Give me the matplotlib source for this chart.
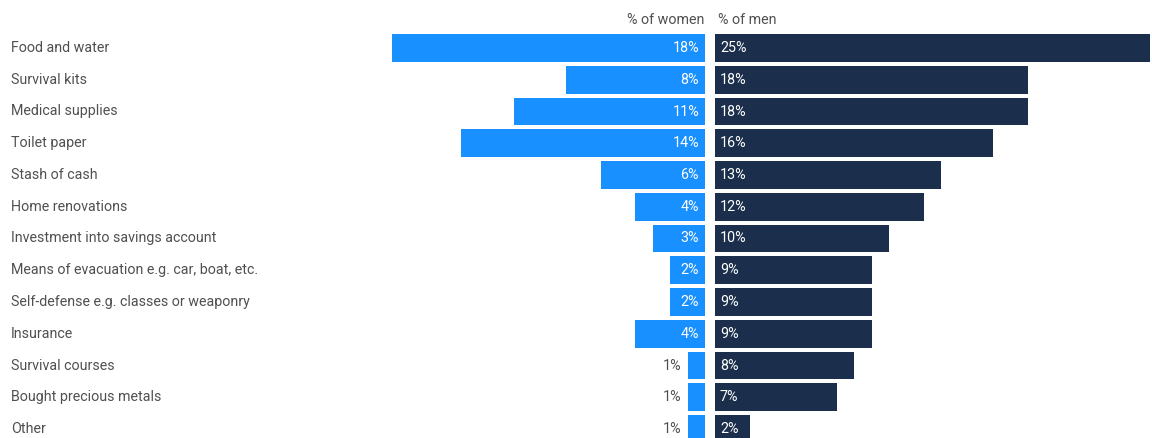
import matplotlib.pyplot as plt

categories = [
    "Food and water",
    "Survival kits",
    "Medical supplies",
    "Toilet paper",
    "Stash of cash",
    "Home renovations",
    "Investment into savings account",
    "Means of evacuation e.g. car, boat, etc.",
    "Self-defense e.g. classes or weaponry",
    "Insurance",
    "Survival courses",
    "Bought precious metals",
    "Other",
]
women = [18, 8, 11, 14, 6, 4, 3, 2, 2, 4, 1, 1, 1]
men = [25, 18, 18, 16, 13, 12, 10, 9, 9, 9, 8, 7, 2]

plt.rcParams['font.family'] = ['Roboto', 'DejaVu Sans']

W, H = 1152, 438
fig = plt.figure(figsize=(W / 100, H / 100), dpi=100)

px_per_pct = 17.4
row_h = 31.75
first_y = 48
y_top = -first_y / row_h
y_bot = (H - first_y) / row_h

women_color = "#1890FF"
men_color = "#1B2E4B"
text_color = "#505050"
fs = 10.3

# women axis: right edge at x=705
wl, wr = 300, 705
ax_w = fig.add_axes([wl / W, 0, (wr - wl) / W, 1])
ax_w.set_xlim((wr - wl) / px_per_pct, 0)
ax_w.set_ylim(y_bot, y_top)
# men axis: starts at x=715
ml, mr = 715, W
ax_m = fig.add_axes([ml / W, 0, (mr - ml) / W, 1])
ax_m.set_xlim(0, (mr - ml) / px_per_pct)
ax_m.set_ylim(y_bot, y_top)

for ax in (ax_w, ax_m):
    ax.axis('off')

ys = list(range(len(categories)))
ax_w.barh(ys, women, height=0.88, color=women_color)
ax_m.barh(ys, men, height=0.88, color=men_color)

for y, v in zip(ys, women):
    if v >= 2:
        ax_w.annotate(f"{v}%", (0, y), xytext=(-6, 0), textcoords='offset pixels',
                      ha='right', va='center', color='white', fontsize=fs)
    else:
        ax_w.annotate(f"{v}%", (v, y), xytext=(-6, 0), textcoords='offset pixels',
                      ha='right', va='center', color=text_color, fontsize=fs)

for y, v in zip(ys, men):
    ax_m.annotate(f"{v}%", (0, y), xytext=(5, 0), textcoords='offset pixels',
                  ha='left', va='center', color='white', fontsize=fs)

for y, c in zip(ys, categories):
    fig.text(11 / W, 1 - (first_y + y * row_h) / H, c, ha='left', va='center',
             color=text_color, fontsize=fs)

fig.text(704 / W, 1 - 20 / H, "% of women", ha='right', va='center',
         color=text_color, fontsize=fs)
fig.text(718 / W, 1 - 20 / H, "% of men", ha='left', va='center',
         color=text_color, fontsize=fs)

fig.savefig("out.png", dpi=100)
